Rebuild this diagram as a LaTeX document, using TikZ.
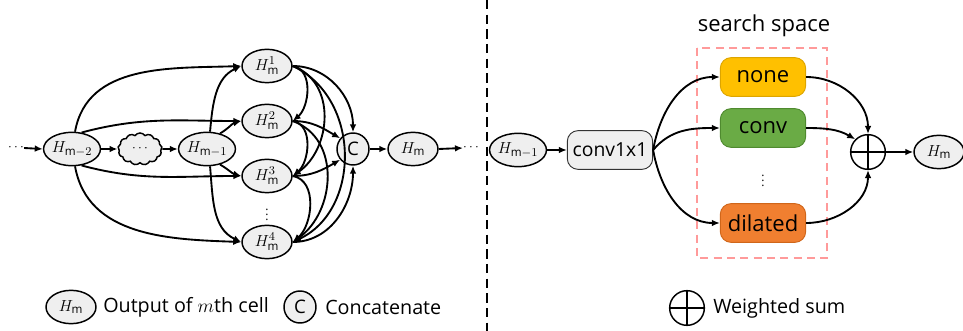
\documentclass[tikz,border=0pt]{standalone}
\usepackage{fontspec}
\setmainfont{Open Sans}
\usetikzlibrary{shapes.geometric,shapes.symbols,arrows.meta}
\definecolor{nonefill}{HTML}{FFC000}
\definecolor{nonedraw}{HTML}{DDA500}
\definecolor{convfill}{HTML}{6AAB45}
\definecolor{convdraw}{HTML}{4F8A2F}
\definecolor{dilfill}{HTML}{F07F30}
\definecolor{dildraw}{HTML}{D0661A}
\definecolor{boxred}{HTML}{FF9A9A}
\definecolor{lgray}{HTML}{EFEFEF}
\tikzset{
  ell/.style={ellipse, draw, line width=1.1pt, fill=lgray, minimum width=37.5pt, minimum height=25pt, inner sep=0pt, font=\fontsize{12.5}{14}\selectfont},
  ccirc/.style={circle, draw, line width=1.1pt, fill=lgray, minimum size=24pt, inner sep=0pt, font=\fontsize{14}{16}\selectfont},
  arr/.style={-{Latex[length=6pt,width=5pt]}, line width=1.4pt},
  opbox/.style={rounded corners=8pt, draw, line width=0.7pt, minimum width=64pt, minimum height=29pt, inner sep=0pt, font=\fontsize{16.5}{19}\selectfont},
  oplus/.style={circle, draw, line width=1.1pt, minimum size=26pt, inner sep=0pt,
     path picture={\draw[line width=1.1pt] (path picture bounding box.north) -- (path picture bounding box.south)
       (path picture bounding box.west) -- (path picture bounding box.east);}},
  lbl/.style={anchor=west, inner sep=0pt, font=\fontsize{14.8}{17}\selectfont},
  vdt/.style={inner sep=0pt, font=\fontsize{9}{10}\selectfont},
}
\begin{document}
\begin{tikzpicture}[x=0.75pt,y=-0.75pt]
\useasboundingbox (0,0) rectangle (963,331);
% ---------- left part ----------
\node[inner sep=0pt] (ldots) at (16,148) {$\cdots$};
\node[ell] (A) at (72,149) {$H_{\mathrm{m}-2}$};
\node[cloud, cloud puffs=13, cloud puff arc=110, aspect=1.5, draw, line width=1.1pt, fill=lgray, minimum width=33pt, minimum height=24pt, inner sep=0pt] (cl) at (140,149) {$\cdots$};
\node[ell] (B) at (207,149) {$H_{\mathrm{m}-1}$};
\node[ell] (H1) at (267,66) {$H_{\mathrm{m}}^{1}$};
\node[ell] (H2) at (267,121) {$H_{\mathrm{m}}^{2}$};
\node[ell] (H3) at (267,176) {$H_{\mathrm{m}}^{3}$};
\node[vdt] (vd) at (267,211) {$\vdots$};
\node[ell] (H4) at (267,242) {$H_{\mathrm{m}}^{4}$};
\node[ccirc] (C) at (353,149) {C};
\node[ell] (Hm) at (413,149) {$H_{\mathrm{m}}$};
\node[inner sep=0pt] (rdots) at (471,148) {$\cdots$};

\draw[arr] (ldots.east) -- (A.west);
\draw[arr] (A) -- (cl);
\draw[arr] (cl) -- (B);
\draw[arr] (A.80) to[out=80, in=182] (H1.west);
\draw[arr] (A.60) to[out=15, in=180] (H2.west);
\draw[arr] (A.-60) to[out=-15, in=180] (H3.west);
\draw[arr] (A.-80) to[out=-80, in=178] (H4.west);
\draw[arr] (B.80) to[out=85, in=205] (H1.west);
\draw[arr] (B.50) to[out=30, in=195] (H2.west);
\draw[arr] (B.-50) to[out=-30, in=165] (H3.west);
\draw[arr] (B.-80) to[out=-85, in=155] (H4.west);

\draw[arr] (H1.east) to[out=-10, in=40] (H2.east);
\draw[arr] (H1.east) to[out=-20, in=35, looseness=1.1] (H3.east);
\draw[arr] (H1.east) to[out=-25, in=25, looseness=1.1] (H4.east);
\draw[arr] (H2.east) to[out=-10, in=40] (H3.east);
\draw[arr] (H2.east) to[out=-20, in=35, looseness=1.1] (H4.east);
\draw[arr] (H3.east) to[out=-10, in=40] (H4.east);
\draw[arr] (H1.east) to[out=0, in=90] (C.north);
\draw[arr] (H2.east) to[out=0, in=150] (C.140);
\draw[arr] (H3.east) to[out=0, in=-150] (C.-140);
\draw[arr] (H4.east) to[out=0, in=-90] (C.south);
\draw[arr] (C) -- (Hm);
\draw[arr] (Hm.east) -- (rdots.west);

% ---------- divider ----------
\draw[line width=1pt, dash pattern=on 7pt off 4pt] (487,0) -- (487,331);

% ---------- right part ----------
\node[ell] (Bp) at (518,150) {$H_{\mathrm{m}-1}$};
\node[opbox, fill=lgray, draw=black!80, font=\fontsize{14.5}{17}\selectfont] (c11) at (610,150) {conv1x1};
\node[font=\fontsize{16.5}{19}\selectfont] (ss) at (764,26) {search space};
\node[opbox, fill=nonefill, draw=nonedraw] (none) at (763,77) {none};
\node[opbox, fill=convfill, draw=convdraw] (conv) at (763,128) {conv};
\node[vdt] (vd2) at (763,177) {$\vdots$};
\node[opbox, fill=dilfill, draw=dildraw] (dil) at (763,223) {dilated};
\draw[boxred, line width=1.4pt, dash pattern=on 6pt off 4pt] (697,48) rectangle (827,258);
\node[oplus] (S) at (868,152) {};
\node[ell] (Hr) at (939,152) {$H_{\mathrm{m}}$};

\draw[arr] (Bp) -- (c11);
\draw[arr] (c11.east) to[out=80, in=180] (none.west);
\draw[arr] (c11.east) to[out=50, in=180] (conv.west);
\draw[arr] (c11.east) to[out=-80, in=180] (dil.west);
\draw[arr] (none.east) to[out=0, in=90] (S.north);
\draw[arr] (conv.east) to[out=0, in=150] (S.135);
\draw[arr] (dil.east) to[out=0, in=-90] (S.south);
\draw[arr] (S) -- (Hr);

% ---------- legend ----------
\node[ell] (LH) at (71,307) {$H_{\mathrm{m}}$};
\node[lbl] (LHt) at (103,307) {Output of $m$th cell};
\node[ccirc] (LC) at (300,307) {C};
\node[lbl] (LCt) at (325,307) {Concatenate};
\node[oplus] (LS) at (687,308) {};
\node[lbl] (LSt) at (713,308) {Weighted sum};
\end{tikzpicture}
\end{document}
